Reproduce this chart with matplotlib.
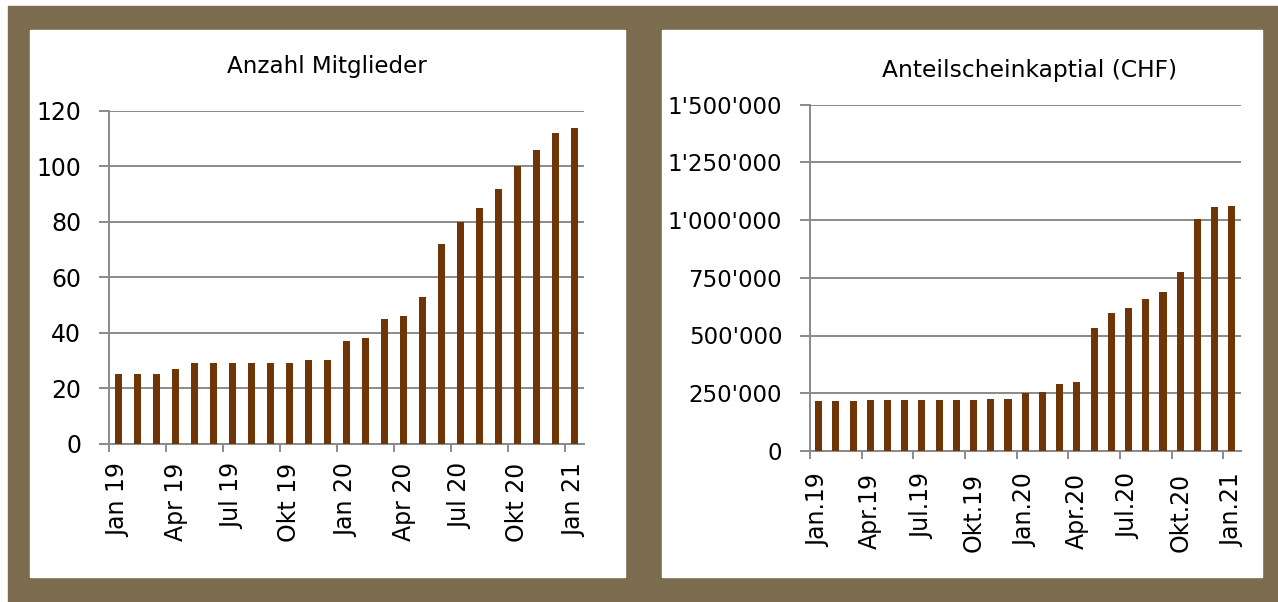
import matplotlib
matplotlib.use("Agg")
import matplotlib.pyplot as plt
from matplotlib.patches import Rectangle
from matplotlib.ticker import FuncFormatter, FixedLocator
import numpy as np

# ---- data (monthly, Jan 2019 .. Jan 2021) ----
members = [25, 25, 25, 27, 29, 29, 29, 29, 29, 29, 30, 30, 37, 38, 45, 46, 53,
           72, 80, 85, 92, 100, 106, 112, 114]
capital = [218000, 218000, 218000, 219000, 219000, 219000, 219000, 219000, 219000,
           219000, 225000, 225000, 249000, 254000, 292000, 297000, 531000, 599000,
           618000, 656000, 689000, 775000, 1006000, 1057000, 1059000]
labels_left = ["Jan 19", "Apr 19", "Jul 19", "Okt 19", "Jan 20", "Apr 20",
               "Jul 20", "Okt 20", "Jan 21"]
labels_right = ["Jan.19", "Apr.19", "Jul.19", "Okt.19", "Jan.20", "Apr.20",
                "Jul.20", "Okt.20", "Jan.21"]
title_left = "Anzahl Mitglieder"
title_right = "Anteilscheinkaptial (CHF)"

W, H = 1278, 602
BAR = "#6f3507"
GRID = "#8a8a8a"
FRAME = "#7b6c50"

plt.rcParams["font.family"] = ["DejaVu Sans"]
fig = plt.figure(figsize=(W / 100, H / 100), dpi=100)

def px(x0, y0, x1, y1):
    # pixel box (top-left origin) -> figure fraction rect
    return [x0 / W, 1 - y1 / H, (x1 - x0) / W, (y1 - y0) / H]

# frame and white panels (behind the axes)
fig.patches.append(Rectangle((8 / W, 0), 1, 1 - 6 / H, transform=fig.transFigure,
                             color=FRAME, zorder=-2))
for x0, x1 in [(30, 625), (662, 1262)]:
    r = px(x0, 30, x1, 577)
    fig.patches.append(Rectangle((r[0], r[1]), r[2], r[3], transform=fig.transFigure,
                                 color="white", zorder=-1))

def style(ax, vals, labels, width, ymax, ystep, xpad, fmt=None):
    n = len(vals)
    x = np.arange(n)
    ax.bar(x, vals, width=width, color=BAR, zorder=3)
    ax.set_xlim(-0.5, n - 0.5)
    ax.set_ylim(0, ymax)
    ax.set_yticks(np.arange(0, ymax + 1, ystep))
    ax.yaxis.grid(True, color=GRID, lw=1.4)
    ax.set_axisbelow(True)
    ax.patch.set_alpha(0)
    for s in ["top", "right"]:
        ax.spines[s].set_visible(False)
    for s in ["left", "bottom"]:
        ax.spines[s].set_color(GRID)
        ax.spines[s].set_linewidth(1.4)
    # labels at category centres every 3 months, tick marks at category edges
    ax.xaxis.set_major_locator(FixedLocator(x[::3]))
    ax.set_xticklabels(labels, rotation=90, fontsize=17)
    ax.xaxis.set_minor_locator(FixedLocator(x[::3] - 0.5))
    ax.tick_params(axis="x", which="major", length=0, pad=xpad)
    ax.tick_params(axis="x", which="minor", length=6, width=1.4, color=GRID)
    ax.tick_params(axis="y", length=7, width=1.4, color=GRID, labelsize=17, pad=13)
    if fmt:
        ax.yaxis.set_major_formatter(FuncFormatter(fmt))

axl = fig.add_axes(px(109, 111, 584, 443.5))
style(axl, members, labels_left, 0.38, 120, 20, xpad=14)

axr = fig.add_axes(px(810, 104.5, 1240.5, 451))
style(axr, capital, labels_right, 0.41, 1500000, 250000, xpad=16,
      fmt=lambda v, p: f"{int(v):,}".replace(",", "'"))
axr.tick_params(axis="y", labelsize=16.5)

fig.text(327 / W, 1 - 67 / H, title_left, ha="center", va="center", fontsize=16.6, zorder=5)
fig.text(1030 / W, 1 - 70 / H, title_right, ha="center", va="center", fontsize=16.8, zorder=5)

fig.savefig("out.png", dpi=100)
